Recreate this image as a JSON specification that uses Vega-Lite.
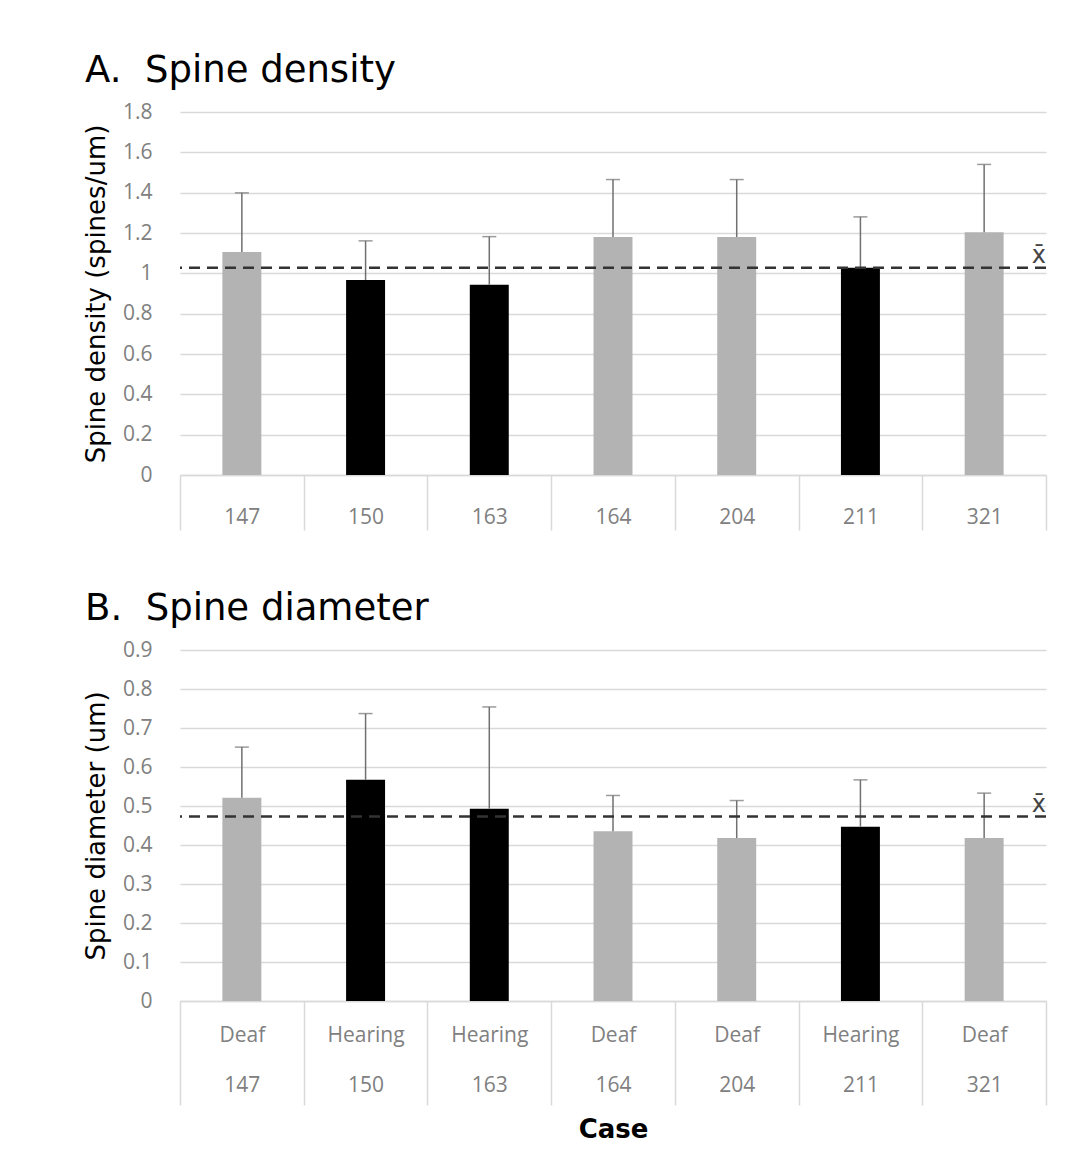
{
  "$schema": "https://vega.github.io/schema/vega-lite/v6.json",
  "background": "white",
  "padding": {"left": 83, "top": 52, "right": 10, "bottom": 10},
  "spacing": 59,
  "datasets": {
    "density": [
      {"case": "147", "group": "Deaf", "value": 1.106, "upper": 1.399},
      {"case": "150", "group": "Hearing", "value": 0.967, "upper": 1.161},
      {"case": "163", "group": "Hearing", "value": 0.944, "upper": 1.182},
      {"case": "164", "group": "Deaf", "value": 1.18, "upper": 1.465},
      {"case": "204", "group": "Deaf", "value": 1.18, "upper": 1.465},
      {"case": "211", "group": "Hearing", "value": 1.028, "upper": 1.28},
      {"case": "321", "group": "Deaf", "value": 1.204, "upper": 1.54}
    ],
    "diameter": [
      {"case": "Deaf|147", "group": "Deaf", "value": 0.521, "upper": 0.651},
      {"case": "Hearing|150", "group": "Hearing", "value": 0.567, "upper": 0.737},
      {"case": "Hearing|163", "group": "Hearing", "value": 0.493, "upper": 0.754},
      {"case": "Deaf|164", "group": "Deaf", "value": 0.435, "upper": 0.527},
      {"case": "Deaf|204", "group": "Deaf", "value": 0.418, "upper": 0.514},
      {"case": "Hearing|211", "group": "Hearing", "value": 0.447, "upper": 0.567},
      {"case": "Deaf|321", "group": "Deaf", "value": 0.418, "upper": 0.533}
    ],
    "meanDensity": [{"case": "321", "mean": 1.028}],
    "meanDiameter": [{"case": "Deaf|321", "mean": 0.473}]
  },
  "vconcat": [
    {
      "width": 866,
      "height": 363,
      "title": {"text": "A.\u00a0 Spine density"},
      "layer": [
        {
          "data": {"name": "density"},
          "mark": {"type": "bar", "width": {"band": 0.315}},
          "encoding": {
            "x": {
              "field": "case", "type": "nominal", "sort": null,
              "scale": {"paddingInner": 0, "paddingOuter": 0},
              "axis": {"title": null, "tickSize": 55, "labelPadding": -13, "labelBaseline": "middle", "labelExpr": "isValid(datum.value) ? datum.value : ''"}
            },
            "y": {
              "field": "value", "type": "quantitative",
              "scale": {"domain": [0, 1.8], "nice": false},
              "axis": {"values": [0, 0.2, 0.4, 0.6, 0.8, 1, 1.2, 1.4, 1.6, 1.8], "format": "~g", "title": "Spine density (spines/um)"}
            },
            "color": {
              "field": "group", "type": "nominal",
              "scale": {"domain": ["Deaf", "Hearing"], "range": ["#b3b3b3", "#000000"]},
              "legend": null
            }
          }
        },
        {
          "data": {"name": "density"},
          "mark": {"type": "rule", "color": "#707070", "strokeWidth": 1.5},
          "encoding": {
            "x": {"field": "case", "type": "nominal", "sort": null},
            "y": {"field": "value", "type": "quantitative", "axis": {"values": [0, 0.2, 0.4, 0.6, 0.8, 1, 1.2, 1.4, 1.6, 1.8], "format": "~g", "title": "Spine density (spines/um)"}},
            "y2": {"field": "upper"}
          }
        },
        {
          "data": {"name": "density"},
          "mark": {"type": "tick", "color": "#707070", "thickness": 1.5, "size": 14, "orient": "horizontal"},
          "encoding": {
            "x": {"field": "case", "type": "nominal", "sort": null},
            "y": {"field": "upper", "type": "quantitative", "axis": {"values": [0, 0.2, 0.4, 0.6, 0.8, 1, 1.2, 1.4, 1.6, 1.8], "format": "~g", "title": "Spine density (spines/um)"}}
          }
        },
        {
          "data": {"name": "meanDensity"},
          "mark": {"type": "rule", "strokeDash": [11, 7], "strokeWidth": 2.5, "color": "#333333"},
          "encoding": {"y": {"field": "mean", "type": "quantitative", "axis": {"values": [0, 0.2, 0.4, 0.6, 0.8, 1, 1.2, 1.4, 1.6, 1.8], "format": "~g", "title": "Spine density (spines/um)"}}}
        },
        {
          "data": {"name": "meanDensity"},
          "mark": {"type": "text", "text": "x̄", "align": "right", "baseline": "bottom", "dy": 0, "font": "DejaVu Sans", "fontSize": 24, "color": "#444444"},
          "encoding": {
            "x": {"field": "case", "type": "nominal", "sort": null, "bandPosition": 1},
            "y": {"field": "mean", "type": "quantitative", "axis": {"values": [0, 0.2, 0.4, 0.6, 0.8, 1, 1.2, 1.4, 1.6, 1.8], "format": "~g", "title": "Spine density (spines/um)"}}
          }
        }
      ]
    },
    {
      "width": 866,
      "height": 351,
      "title": {"text": "B.\u00a0 Spine diameter"},
      "layer": [
        {
          "data": {"name": "diameter"},
          "mark": {"type": "bar", "width": {"band": 0.315}},
          "encoding": {
            "x": {
              "field": "case", "type": "nominal", "sort": null,
              "scale": {"paddingInner": 0, "paddingOuter": 0},
              "axis": {"title": "Case", "tickSize": 104, "labelPadding": -70, "labelBaseline": "middle", "labelExpr": "isValid(datum.value) ? split(datum.value, '|') : ''", "labelLineHeight": 50, "titlePadding": 11}
            },
            "y": {
              "field": "value", "type": "quantitative",
              "scale": {"domain": [0, 0.9], "nice": false},
              "axis": {"values": [0, 0.1, 0.2, 0.3, 0.4, 0.5, 0.6, 0.7, 0.8, 0.9], "format": "~g", "title": "Spine diameter (um)"}
            },
            "color": {
              "field": "group", "type": "nominal",
              "scale": {"domain": ["Deaf", "Hearing"], "range": ["#b3b3b3", "#000000"]},
              "legend": null
            }
          }
        },
        {
          "data": {"name": "diameter"},
          "mark": {"type": "rule", "color": "#707070", "strokeWidth": 1.5},
          "encoding": {
            "x": {"field": "case", "type": "nominal", "sort": null},
            "y": {"field": "value", "type": "quantitative", "axis": {"values": [0, 0.1, 0.2, 0.3, 0.4, 0.5, 0.6, 0.7, 0.8, 0.9], "format": "~g", "title": "Spine diameter (um)"}},
            "y2": {"field": "upper"}
          }
        },
        {
          "data": {"name": "diameter"},
          "mark": {"type": "tick", "color": "#707070", "thickness": 1.5, "size": 14, "orient": "horizontal"},
          "encoding": {
            "x": {"field": "case", "type": "nominal", "sort": null},
            "y": {"field": "upper", "type": "quantitative", "axis": {"values": [0, 0.1, 0.2, 0.3, 0.4, 0.5, 0.6, 0.7, 0.8, 0.9], "format": "~g", "title": "Spine diameter (um)"}}
          }
        },
        {
          "data": {"name": "meanDiameter"},
          "mark": {"type": "rule", "strokeDash": [11, 7], "strokeWidth": 2.5, "color": "#333333"},
          "encoding": {"y": {"field": "mean", "type": "quantitative", "axis": {"values": [0, 0.1, 0.2, 0.3, 0.4, 0.5, 0.6, 0.7, 0.8, 0.9], "format": "~g", "title": "Spine diameter (um)"}}}
        },
        {
          "data": {"name": "meanDiameter"},
          "mark": {"type": "text", "text": "x̄", "align": "right", "baseline": "bottom", "dy": 0, "font": "DejaVu Sans", "fontSize": 24, "color": "#444444"},
          "encoding": {
            "x": {"field": "case", "type": "nominal", "sort": null, "bandPosition": 1},
            "y": {"field": "mean", "type": "quantitative", "axis": {"values": [0, 0.1, 0.2, 0.3, 0.4, 0.5, 0.6, 0.7, 0.8, 0.9], "format": "~g", "title": "Spine diameter (um)"}}
          }
        }
      ]
    }
  ],
  "config": {
    "view": {"stroke": null},
    "title": {"anchor": "start", "frame": "group", "dx": -95, "font": "DejaVu Sans", "fontSize": 37, "fontWeight": "normal", "color": "#000000", "offset": 11},
    "axisY": {
      "grid": true, "gridColor": "#d9d9d9", "gridWidth": 1.5,
      "domain": false, "ticks": false, "labelOverlap": false,
      "labelFont": "Open Sans", "labelFontSize": 21, "labelColor": "#808080", "labelPadding": 28,
      "titleFont": "DejaVu Sans", "titleFontSize": 26, "titleFontWeight": "normal", "titleColor": "#000000", "titlePadding": 13
    },
    "axisX": {
      "grid": false, "labelAngle": 0, "tickBand": "extent",
      "domainColor": "#d9d9d9", "domainWidth": 1.5, "tickColor": "#d9d9d9", "tickWidth": 1.5,
      "labelFont": "Open Sans", "labelFontSize": 21, "labelColor": "#808080",
      "titleFont": "DejaVu Sans", "titleFontSize": 26, "titleFontWeight": "bold", "titleColor": "#000000"
    }
  }
}
